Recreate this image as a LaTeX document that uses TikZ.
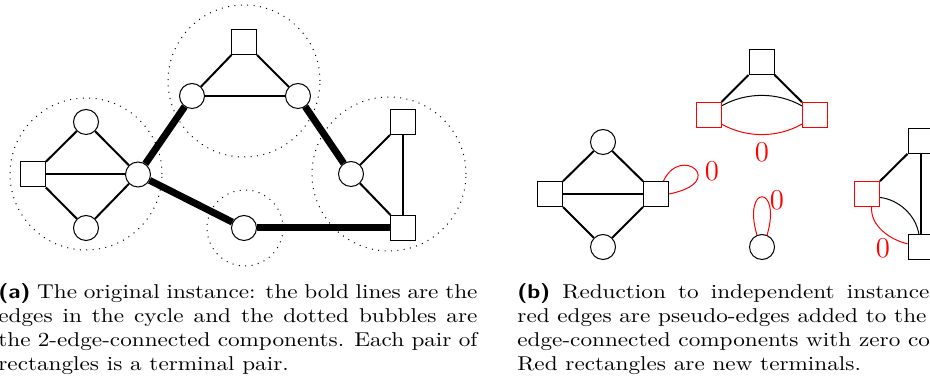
\documentclass[tikz,border=0pt]{standalone}
\usepackage{graphicx}
\usetikzlibrary{backgrounds}
\newcommand{\capbox}[1]{\scalebox{1.16}[1]{\parbox[t]{206.5pt}{\fontsize{10}{12}\selectfont #1}}}
\begin{document}
\begin{tikzpicture}[x=0.5pt,y=-0.5pt,
  vtx/.style={circle,draw,line width=0.5pt,fill=white,minimum size=12.5pt,inner sep=0pt},
  term/.style={rectangle,draw,line width=0.5pt,fill=white,minimum size=12.5pt,inner sep=0pt},
  nterm/.style={term,draw=red},
  bubble/.style={circle,draw,dash pattern=on 0.5pt off 2.7pt,line width=0.5pt,inner sep=0pt,minimum size=#1},
  ed/.style={line width=1pt},
  cyc/.style={line width=3.5pt},
  thinedge/.style={line width=0.5pt},
  pseudo/.style={red,line width=0.5pt},
  zero/.style={text=red,font=\Large,inner sep=0pt},
  captext/.style={inner sep=0pt,anchor=north west}
]
\useasboundingbox (0,0) rectangle (930,383);
\clip (0,0) rectangle (930,383);

% ---------- (a) ----------
\node[bubble=76pt] (B1) at (86,174) {};
\node[bubble=76pt] (B2) at (244,81) {};
\node[bubble=77pt] (B3) at (389,174) {};
\node[bubble=38pt] (B4) at (245,228) {};

\node[term] (L1) at (33,174.5) {};
\node[vtx]  (a1) at (86,122) {};
\node[vtx]  (a2) at (86,228) {};
\node[vtx]  (c)  at (138,174.5) {};
\node[vtx]  (t1) at (192,96) {};
\node[vtx]  (t2) at (298,96) {};
\node[term] (ts) at (244,42) {};
\node[vtx]  (s)  at (244,228) {};
\node[vtx]  (r1) at (351,174) {};
\node[term] (rs1) at (403,122) {};
\node[term] (rs2) at (403,228) {};

% ---------- (b) ----------
\node[term] (k1) at (550,194) {};
\node[term] (k2) at (656,194) {};
\node[vtx]  (kt) at (603,142) {};
\node[vtx]  (kb) at (603,247) {};

\node[term]  (ts2) at (761.5,62) {};
\node[nterm] (rl)  at (708.5,115) {};
\node[nterm] (rr)  at (815,115) {};

\node[vtx] (sc) at (762,247) {};

\node[nterm] (rn)  at (867,194) {};
\node[term]  (bt1) at (920.5,141) {};
\node[term]  (bt2) at (920.5,247.5) {};

\node[zero] (z1) at (712,171) {0};
\node[zero] (z2) at (762,152) {0};
\node[zero] (z3) at (777,200) {0};
\node[zero] (z4) at (883,248) {0};

\begin{scope}[on background layer]
  % (a) edges
  \draw[ed] (L1) -- (a1);
  \draw[ed] (L1) -- (a2);
  \draw[ed] (L1) -- (c);
  \draw[ed] (a1) -- (c);
  \draw[ed] (a2) -- (c);
  \draw[ed] (ts) -- (t1);
  \draw[ed] (ts) -- (t2);
  \draw[ed] (t1) -- (t2);
  \draw[ed] (r1) -- (rs1);
  \draw[ed] (r1) -- (rs2);
  \draw[ed] (rs1) -- (rs2);
  \draw[cyc] (c) -- (t1);
  \draw[cyc] (t2) -- (r1);
  \draw[cyc] (c) -- (s);
  \draw[cyc] (s) -- (rs2);
  % (b) edges
  \draw[ed] (k1) -- (kt);
  \draw[ed] (k1) -- (kb);
  \draw[ed] (k1) -- (k2);
  \draw[ed] (kt) -- (k2);
  \draw[ed] (kb) -- (k2);
  \draw[pseudo] (k2.60) .. controls +(17,-37) and +(60,-12) .. (k2.east);
  \draw[ed] (ts2) -- (rl);
  \draw[ed] (ts2) -- (rr);
  \draw[thinedge] (rl.35) .. controls +(25,-14) and +(-25,-14) .. (rr.145);
  \draw[pseudo] (rl.-35) .. controls +(25,14) and +(-25,14) .. (rr.-145);
  \draw[pseudo] (sc.113) .. controls +(-15,-51) and +(15,-51) .. (sc.67);
  \draw[ed] (rn) -- (bt1);
  \draw[ed] (bt1) -- (bt2);
  \draw[thinedge] (rn.-15) .. controls +(18,2) and +(-3,-20) .. (bt2.97);
  \draw[pseudo] (rn.-70) .. controls +(-2,18) and +(-18,-4) .. (bt2.164);
\end{scope}

% ---------- captions ----------
\node[captext] (capA) at (-2,283) {\capbox{\textsf{\textbf{(a)}} The original instance: the bold lines are the\linebreak{} edges in the cycle and the dotted bubbles are\linebreak{} the 2-edge-connected components. Each pair of\linebreak{} rectangles is a terminal pair.}};
\node[captext] (capB) at (517,283) {\capbox{\textsf{\textbf{(b)}} Reduction to independent instances: the\linebreak{} red edges are pseudo-edges added to the 2-\newline edge-connected components with zero cost.\newline Red rectangles are new terminals.}};
\end{tikzpicture}
\end{document}
